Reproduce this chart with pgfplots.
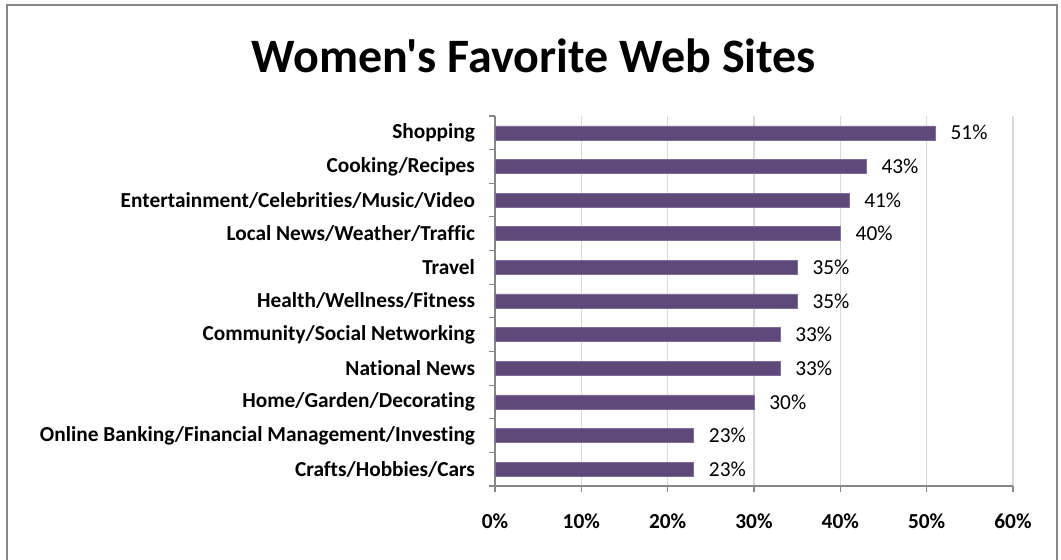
\documentclass[border=0pt]{standalone}
\usepackage{pgfplots}
\pgfplotsset{compat=1.18}
\usepackage{fontspec}
\setmainfont{Carlito}[Ligatures={TeXOff,NoCommon}]
\definecolor{barpurple}{HTML}{5F497A}
\definecolor{axisgray}{HTML}{868686}
\definecolor{gridgray}{HTML}{D9D9D9}
\begin{document}
\begin{tikzpicture}[x=0.75pt, y=0.75pt]
  % canvas in pixels, y measured from the bottom
  \path[use as bounding box] (0,0) rectangle (1061,560);
  \draw[axisgray, line width=1.5pt] (7,0) -- (7,555) -- (1057,555) -- (1057,0);
  \node[font=\fontsize{36}{42}\selectfont\bfseries] at (534,504) {Women's Favorite Web Sites};
  \coordinate (plotorigin) at (495,74);
  \begin{axis}[
      at={(plotorigin)}, anchor=south west,
      scale only axis,
      width=388.5pt, height=277.5pt,
      xbar, bar width=10.5pt,
      xmin=0, xmax=60,
      ymin=-0.5, ymax=10.5,
      xtick={0,10,...,60},
      xticklabel={\pgfmathprintnumber{\tick}\%},
      ytick={0,...,10},
      yticklabels={Crafts/Hobbies/Cars,
        Online Banking/Financial Management/Investing,
        Home/Garden/Decorating,
        National News,
        Community/Social Networking,
        Health/Wellness/Fitness,
        Travel,
        Local News/Weather/Traffic,
        Entertainment/Celebrities/Music/Video,
        Cooking/Recipes,
        Shopping},
      minor ytick={-0.5,0.5,...,10.5},
      major y tick style={draw=none},
      tick align=outside,
      major tick length=4.5pt, minor tick length=4.5pt,
      axis x line*=bottom, axis y line*=left,
      axis line style={axisgray, line width=0.8pt},
      every tick/.style={axisgray, line width=0.8pt},
      xmajorgrids, grid style={gridgray, line width=0.8pt},
      /pgf/number format/assume math mode=true,
      tick label style={font=\fontsize{16}{19}\selectfont\bfseries},
      xticklabel style={yshift=-13pt},
      yticklabel style={xshift=-7pt},
      nodes near coords={\pgfmathprintnumber{\pgfplotspointmeta}\%},
      point meta=x,
      every node near coord/.append style={font=\fontsize{16}{19}\selectfont, anchor=west, xshift=8pt},
    ]
    \addplot[fill=barpurple, draw=barpurple!80!white] coordinates {
        (23,0) (23,1) (30,2) (33,3) (33,4) (35,5)
        (35,6) (40,7) (41,8) (43,9) (51,10)
      };
  \end{axis}
\end{tikzpicture}
\end{document}
